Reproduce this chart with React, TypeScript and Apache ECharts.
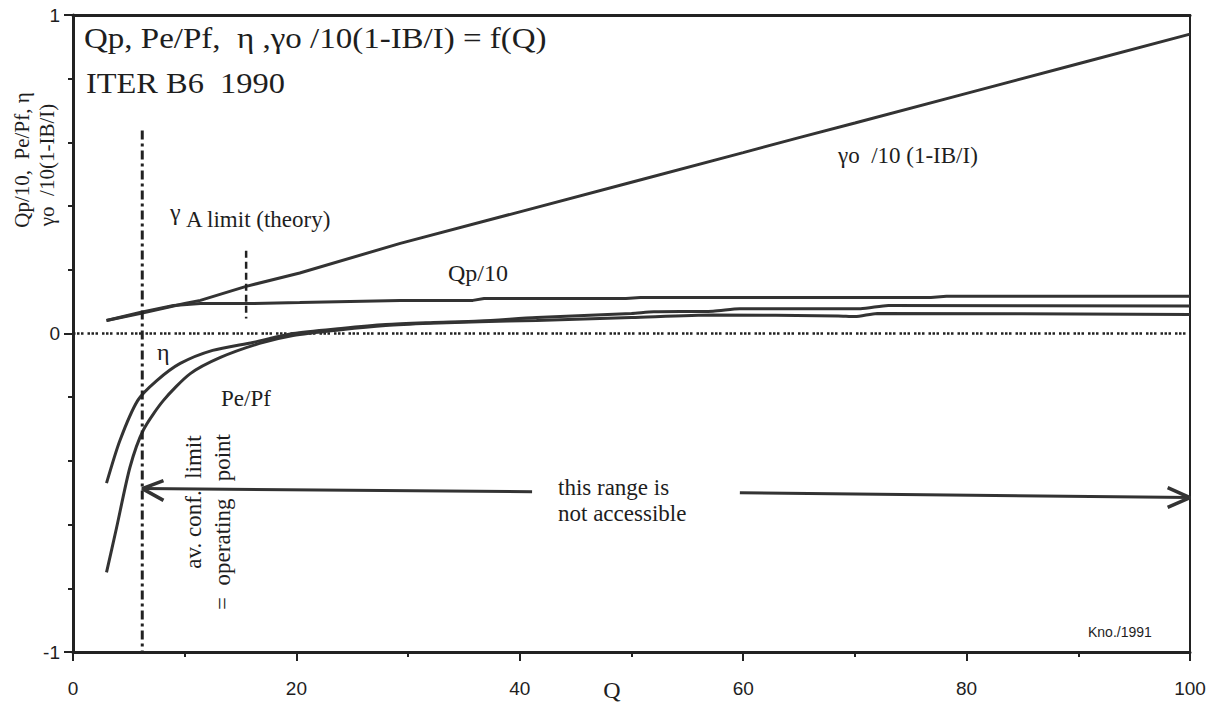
import React, { useEffect, useRef } from "react";
import * as echarts from "echarts";

// ---- data ----
const gammaQ = [3, 6, 10, 11.4, 15.5, 20.3, 29.3, 40, 50, 60, 65, 70, 80, 90, 100];
const gammaV = [0.041, 0.063, 0.094, 0.104, 0.148, 0.19, 0.283, 0.382, 0.475, 0.568, 0.615, 0.661, 0.754, 0.847, 0.94];

const qpQ = [3, 6, 9, 11.4, 15.5, 20.3, 29.3, 35.8, 36.8, 49.5, 50.8, 76.8, 78.2, 100];
const qpV = [0.041, 0.066, 0.088, 0.094, 0.094, 0.097, 0.104, 0.104, 0.11, 0.11, 0.113, 0.113, 0.117, 0.117];

const etaQ = [3, 4.2, 5.8, 7.5, 9.6, 12.5, 16.1, 19.7, 24, 28, 32, 36.4, 41.5, 50, 52, 57.3, 59.7, 70.5, 73, 100];
const etaV = [-0.47, -0.336, -0.21, -0.148, -0.094, -0.053, -0.028, 0.0, 0.016, 0.028, 0.034, 0.039, 0.05, 0.063, 0.068, 0.07, 0.078, 0.078, 0.088, 0.086];

const peQ = [3, 3.9, 5.1, 6.3, 8.1, 10.5, 13.2, 16.7, 19.7, 24, 28, 32, 36.4, 41.5, 50, 57.3, 68.5, 70, 72, 100];
const peV = [-0.75, -0.61, -0.42, -0.303, -0.21, -0.126, -0.075, -0.031, -0.006, 0.012, 0.025, 0.032, 0.037, 0.041, 0.05, 0.058, 0.055, 0.053, 0.063, 0.06];

// annotation geometry in data units
const opPointQ = [6.2, 6.2];
const opPointV = [0.637, -1];
const gammaAQ = [15.5, 15.5];
const gammaAV = [0.26, 0.047];
const zeroQ = [0, 100];
const zeroV = [0, 0];
const arrowLeftQ = [6.2, 41.1];
const arrowLeftV = [-0.487, -0.497];
const arrowRightQ = [59.7, 100];
const arrowRightV = [-0.5, -0.515];
const headLeftQ = [8.1, 6.2, 8.1];
const headLeftV = [-0.462, -0.487, -0.524];
const headRightQ = [98.0, 100, 98.0];
const headRightV = [-0.484, -0.515, -0.546];

const xTicks = { min: 0, max: 100, interval: 20 };
const yTicks = { min: -1, max: 1, interval: 1 };

const zip = (xs: number[], ys: number[]) => xs.map((x, i) => [x, ys[i]]);

const INK = "#333333";
const TXT = "#1e1e1e";
const SERIF = '"Liberation Serif", "Times New Roman", serif';
const SANS = '"Liberation Sans", Arial, sans-serif';

function lineSeries(xs: number[], ys: number[], extra: any = {}) {
  return {
    type: "line",
    data: zip(xs, ys),
    symbol: "none",
    showSymbol: false,
    silent: true,
    lineStyle: { color: INK, width: 3, ...(extra.lineStyle || {}) },
    smooth: extra.smooth || false,
    z: extra.z || 3,
  };
}

function txt(text: string, x: number, y: number, size: number, opts: any = {}) {
  return {
    type: "text",
    x,
    y,
    rotation: opts.rotation || 0,
    scaleX: opts.scaleX || 1,
    silent: true,
    z: 10,
    style: {
      text,
      fill: TXT,
      font: `${size}px ${opts.family || SERIF}`,
      textAlign: opts.align || "left",
      textVerticalAlign: "middle",
    },
  };
}

export default function App() {
  const ref = useRef<HTMLDivElement>(null);

  useEffect(() => {
    if (!ref.current) return;
    const chart = echarts.init(ref.current, undefined, { renderer: "svg" });
    const axisCommon = {
      type: "value",
      splitLine: { show: false },
      minorSplitLine: { show: false },
    };
    chart.setOption({
      animation: false,
      backgroundColor: "#ffffff",
      grid: { left: 73, right: 30, top: 15, bottom: 50 },
      xAxis: [
        {
          ...axisCommon,
          ...xTicks,
          position: "bottom",
          axisLine: { show: true, onZero: false, lineStyle: { color: "#222", width: 3 } },
          axisTick: { show: true, length: 9, lineStyle: { color: "#222", width: 2 } },
          minorTick: { show: true, splitNumber: 2, length: 5, lineStyle: { color: "#222", width: 2 } },
          axisLabel: { color: TXT, fontSize: 19, fontFamily: SANS, margin: 27 },
        },
        {
          ...axisCommon,
          ...xTicks,
          position: "top",
          axisLine: { show: true, onZero: false, lineStyle: { color: "#222", width: 3 } },
          axisTick: { show: false },
          axisLabel: { show: false },
        },
      ],
      yAxis: [
        {
          ...axisCommon,
          ...yTicks,
          position: "left",
          axisLine: { show: true, onZero: false, lineStyle: { color: "#222", width: 3 } },
          axisTick: { show: true, length: 9, lineStyle: { color: "#222", width: 2 } },
          minorTick: { show: true, splitNumber: 5, length: 5, lineStyle: { color: "#222", width: 2 } },
          axisLabel: { color: TXT, fontSize: 19, fontFamily: SANS, margin: 13 },
        },
        {
          ...axisCommon,
          ...yTicks,
          position: "right",
          axisLine: { show: true, onZero: false, lineStyle: { color: "#222", width: 2 } },
          axisTick: { show: false },
          axisLabel: { show: false },
        },
      ],
      series: [
        lineSeries(zeroQ, zeroV, { lineStyle: { width: 2.5, type: [2.5, 1.5, 2.5, 1.5, 2.5, 4], color: "#222" }, z: 2 }),
        lineSeries(gammaQ, gammaV),
        lineSeries(qpQ, qpV),
        lineSeries(etaQ, etaV, { smooth: 0.25 }),
        lineSeries(peQ, peV, { smooth: 0.25 }),
        lineSeries(opPointQ, opPointV, { lineStyle: { width: 3, type: [9, 4, 3, 4], color: "#222" } }),
        lineSeries(gammaAQ, gammaAV, { lineStyle: { width: 2.5, type: [7, 4], color: "#222" } }),
        lineSeries(arrowLeftQ, arrowLeftV, { lineStyle: { width: 3 } }),
        lineSeries(arrowRightQ, arrowRightV, { lineStyle: { width: 3 } }),
        lineSeries(headLeftQ, headLeftV, { lineStyle: { width: 3.5 } }),
        lineSeries(headRightQ, headRightV, { lineStyle: { width: 3.5 } }),
      ],
      graphic: [
        txt("Qp, Pe/Pf,  η ,γo /10(1-IB/I) = f(Q)", 84, 38, 30, { scaleX: 1.1 }),
        txt("ITER B6  1990", 86, 83, 30, { scaleX: 1.08 }),
        txt("γ", 170, 212, 24),
        txt("A limit (theory)", 186, 219, 23),
        txt("Qp/10", 448, 273, 24),
        txt("γo  /10 (1-IB/I)", 838, 155, 23),
        txt("η", 157, 352, 24),
        txt("Pe/Pf", 221, 398, 23),
        txt("av. conf.  limit", 193, 502, 23, { rotation: Math.PI / 2, align: "center" }),
        txt("=  operating   point", 222, 522, 23, { rotation: Math.PI / 2, align: "center" }),
        txt("this range is", 558, 487, 23),
        txt("not accessible", 558, 513, 23),
        txt("Kno./1991", 1088, 632, 14, { family: SANS }),
        txt("Q", 612, 690, 24, { align: "center" }),
        txt("Qp/10,  Pe/Pf, η", 22, 160, 21, { rotation: Math.PI / 2, align: "center" }),
        txt("γo  /10(1-IB/I)", 47, 165, 21, { rotation: Math.PI / 2, align: "center" }),
      ],
    });
    return () => chart.dispose();
  }, []);

  return (
    <div
      ref={ref}
      style={{ position: "fixed", left: 0, top: 0, width: 1220, height: 702, background: "#fff" }}
    />
  );
}
